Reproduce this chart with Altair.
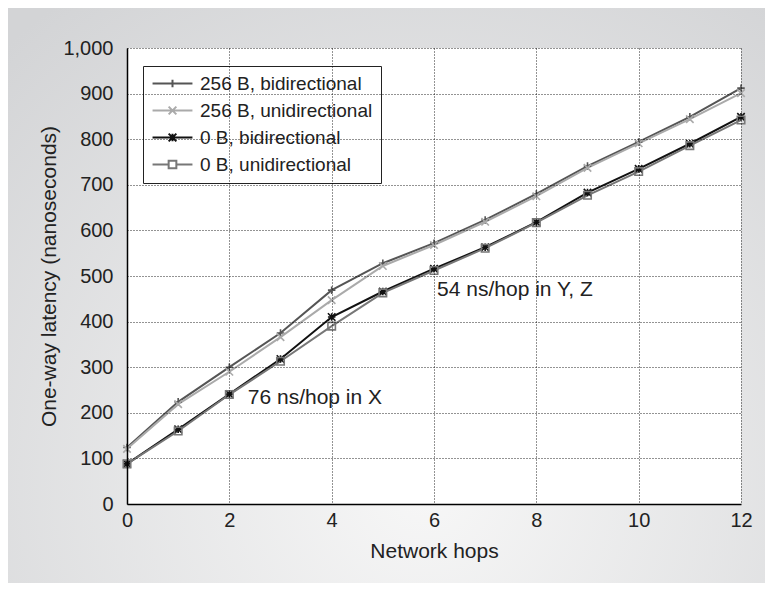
import altair as alt
import pandas as pd

hops = list(range(13))
series_names = ["256 B, bidirectional", "256 B, unidirectional", "0 B, bidirectional", "0 B, unidirectional"]
lat_256_bi = [124, 224, 300, 375, 469, 528, 572, 623, 680, 741, 794, 849, 912]
lat_256_uni = [121, 219, 290, 366, 447, 522, 568, 619, 675, 737, 791, 844, 901]
lat_0_bi = [88, 164, 241, 318, 410, 466, 516, 563, 618, 683, 735, 790, 849]
lat_0_uni = [88, 160, 240, 313, 390, 463, 512, 561, 617, 677, 729, 786, 842]
series_colors = ["#555555", "#aaaaaa", "#111111", "#777777"]

ann_x = [2.36, 6.06]
ann_y = [232, 469]
ann_text = ["76 ns/hop in X", "54 ns/hop in Y, Z"]

FONT = "Liberation Sans"
W, H = 614, 456
PL, PT, PR, PB = 119, 40, 24, 79

rows = []
for name, vals in zip(series_names, [lat_256_bi, lat_256_uni, lat_0_bi, lat_0_uni]):
    for h, v in zip(hops, vals):
        rows.append({"hops": h, "latency": v, "series": name})
df = pd.DataFrame(rows)
ann = pd.DataFrame({"x": ann_x, "y": ann_y, "text": ann_text})
one = pd.DataFrame({"a": [0]})

marker_paths = [
    "M-1,0L1,0M0,-1L0,1",
    "M-1,-1L1,1M-1,1L1,-1",
    "M-1,-1L1,1M-1,1L1,-1M-1,0L1,0M0,-1L0,1",
    "square",
]
L = 5.7
legend_paths = [
    f"M-{L},0L{L},0M0,-1.1L0,1.1",
    f"M-{L},0L{L},0M-1.1,-1.1L1.1,1.1M-1.1,1.1L1.1,-1.1",
    f"M-{L},0L{L},0M-1.1,-1.1L1.1,1.1M-1.1,1.1L1.1,-1.1M0,-1.1L0,1.1",
    f"M-{L},0L-1.1,0M1.1,0L{L},0M-1.1,-1.1L1.1,-1.1L1.1,1.1L-1.1,1.1Z",
]

cscale = alt.Scale(domain=series_names, range=series_colors)
xenc = alt.X("hops:Q", scale=alt.Scale(domain=[0, 12], nice=False),
             axis=alt.Axis(values=list(range(0, 13, 2)), title="Network hops", zindex=1,
                           labelFlush=False))
yenc = alt.Y("latency:Q", scale=alt.Scale(domain=[0, 1000], nice=False),
             axis=alt.Axis(values=list(range(0, 1001, 100)), format=",d",
                           title="One-way latency (nanoseconds)", zindex=1))

bg = alt.Chart(one).mark_rect(
    color=alt.RadialGradient(
        gradient="radial",
        stops=[alt.GradientStop(color="#f7f7f7", offset=0),
               alt.GradientStop(color="#d3d4d6", offset=1)],
        x1=0.55, y1=0.75, r1=0.0, x2=0.55, y2=0.75, r2=0.8,
    )
).encode(x=alt.value(-PL), x2=alt.value(W + PR), y=alt.value(-PT), y2=alt.value(H + PB))

plotbg = alt.Chart(one).mark_rect(color="white").encode(
    x=alt.value(0), x2=alt.value(W), y=alt.value(0), y2=alt.value(H))

lines = alt.Chart(df).mark_line(strokeWidth=2).encode(
    x=xenc, y=yenc,
    color=alt.Color("series:N", scale=cscale, legend=None),
    order=alt.Order("hops:Q"),
)

markers = alt.Chart(df).mark_point(filled=False, size=56, strokeWidth=1.6, opacity=1).encode(
    x=xenc, y=yenc,
    color=alt.Color("series:N", scale=cscale, legend=None),
    shape=alt.Shape("series:N", scale=alt.Scale(domain=series_names, range=marker_paths), legend=None),
)

leg = alt.Legend(
    title=None, orient="none", legendX=16, legendY=18,
    fillColor="white", strokeColor="#222222", padding=8,
    labelFont=FONT, labelFontSize=19, labelColor="#222222", labelLimit=0,
    symbolSize=49, symbolStrokeWidth=2, symbolOffset=12, labelOffset=18,
    symbolOpacity=1,
    symbolStrokeColor=alt.ExprRef(expr="scale('color', datum.value)"),
    rowPadding=7,
)
legend_layer = alt.Chart(df).mark_point(filled=False, opacity=0, strokeWidth=2).encode(
    x=xenc, y=yenc,
    color=alt.Color("series:N", scale=cscale, legend=None),
    shape=alt.Shape("series:N", scale=alt.Scale(domain=series_names, range=legend_paths), legend=leg),
)

texts = alt.Chart(ann).mark_text(align="left", baseline="middle", font=FONT, fontSize=21,
                                  color="#222222").encode(
    x=alt.X("x:Q"), y=alt.Y("y:Q"), text="text:N")

chart = alt.layer(bg, plotbg, lines, markers, legend_layer, texts).resolve_scale(
    shape="independent"
).properties(
    width=W, height=H,
    autosize=alt.AutoSizeParams(type="none"),
    padding={"left": PL, "top": PT, "right": PR, "bottom": PB},
    background="#d8d9db",
).configure_view(stroke=None).configure_axis(
    grid=True, gridColor="#000000", gridDash=[1, 2], gridWidth=1, gridOpacity=0.85,
    domainColor="#000000", domainWidth=1.5,
    ticks=False, tickSize=0,
    labelFont=FONT, labelFontSize=20, labelColor="#222222",
    titleFont=FONT, titleFontSize=21, titleColor="#222222", titleFontWeight="normal",
).configure_axisX(labelPadding=6, titlePadding=10).configure_axisY(labelPadding=14, titlePadding=3)

chart.save("out.html", embed_options={"renderer": "svg", "actions": False})
